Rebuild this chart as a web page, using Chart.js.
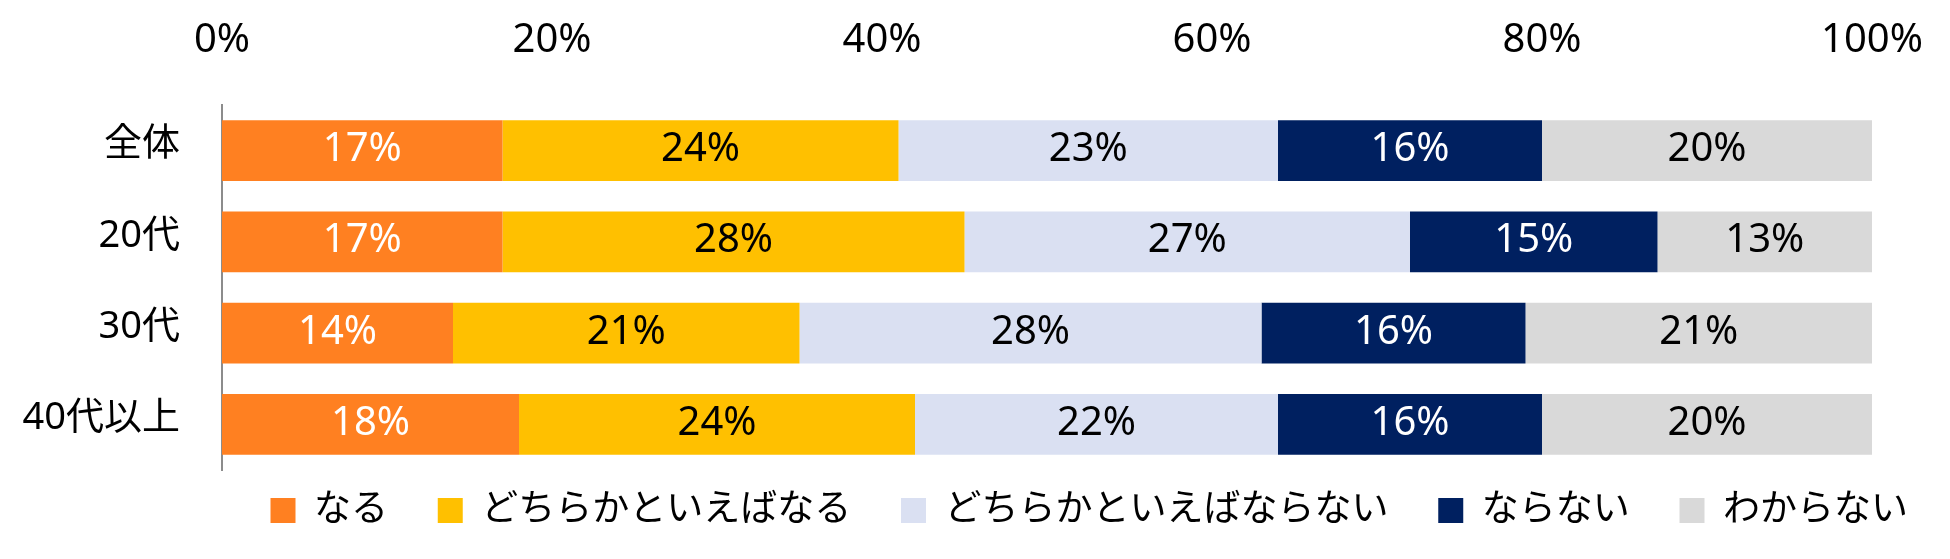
<!DOCTYPE html>
<html>
<head>
<meta charset="utf-8">
<script src="https://cdn.jsdelivr.net/npm/chart.js@4"></script>
<style>
  html, body { margin: 0; padding: 0; background: #fff; }
  #wrap { width: 1950px; height: 559px; }
</style>
</head>
<body>
<div id="wrap"><canvas id="myChart" width="1950" height="559"></canvas></div>
<script>
'use strict';

let groups = ['全体', '20代', '30代', '40代以上'];
let answers = ['なる', 'どちらかといえばなる', 'どちらかといえばならない', 'ならない', 'わからない'];

let naru = [17, 17, 14, 18];
let dochiraNaru = [24, 28, 21, 24];
let dochiraNaranai = [23, 27, 28, 22];
let naranai = [16, 15, 16, 16];
let wakaranai = [20, 13, 21, 20];

let tickValues = [0, 20, 40, 60, 80, 100];

let barColors = ['#FF8021', '#FFC000', '#DAE0F2', '#002060', '#D9D9D9'];
let labelColors = ['#ffffff', '#000000', '#000000', '#ffffff', '#000000'];

let seriesValues = [naru, dochiraNaru, dochiraNaranai, naranai, wakaranai];

const numFont = '"Noto Sans", "Noto Sans CJK JP", sans-serif';

let datasets = [];
for (let i = 0; i < answers.length; i++) {
    datasets.push({
        label: answers[i],
        data: seriesValues[i],
        backgroundColor: barColors[i],
        borderWidth: 0,
        categoryPercentage: 1,
        barPercentage: 0.667
    });
}

// percent text in the middle of each piece
const barLabels = {
    id: 'barLabels',
    afterDatasetsDraw(chart) {
        let ctx = chart.ctx;
        ctx.save();
        ctx.font = '40px ' + numFont;
        ctx.textAlign = 'center';
        ctx.textBaseline = 'middle';
        chart.data.datasets.forEach((ds, i) => {
            let meta = chart.getDatasetMeta(i);
            meta.data.forEach((bar, j) => {
                let p = bar.getCenterPoint();
                ctx.fillStyle = labelColors[i];
                ctx.fillText(ds.data[j] + '%', p.x, p.y - 1);
            });
        });
        ctx.restore();
    }
};

let ctx = document.getElementById('myChart').getContext('2d');

let chart = new Chart(ctx, {
    type: 'bar',
    data: {
        labels: groups,
        datasets: datasets
    },
    options: {
        indexAxis: 'y',
        responsive: false,
        animation: false,
        layout: { padding: { left: 0, right: 20, top: 0, bottom: 20 } },
        scales: {
            x: {
                position: 'top',
                stacked: true,
                min: 0,
                max: 100,
                afterBuildTicks: (s) => { s.ticks = tickValues.map(v => ({ value: v })); },
                afterFit: (s) => {
                    s.height = 105;
                    s.paddingLeft = 0;
                    s.paddingRight = 0;
                },
                grid: { display: false, drawTicks: false },
                border: { display: false },
                ticks: {
                    padding: 40,
                    color: '#000',
                    font: { family: numFont, size: 40 },
                    callback: (v) => v + '%'
                }
            },
            y: {
                stacked: true,
                afterFit: (s) => { s.width = 222; },
                grid: { display: false, drawTicks: false },
                border: { display: true, color: '#8c8c8c', width: 2 },
                ticks: {
                    padding: 42,
                    labelOffset: -6,
                    color: '#000',
                    font: { family: numFont, size: 38 }
                }
            },
            yRight: {
                type: 'linear',
                position: 'right',
                afterFit: (s) => { s.width = 58; },
                grid: { display: false, drawTicks: false },
                border: { display: false },
                ticks: { display: false }
            }
        },
        plugins: {
            legend: {
                position: 'bottom',
                align: 'end',
                labels: {
                    boxWidth: 25,
                    boxHeight: 25,
                    padding: 22,
                    color: '#000',
                    font: { family: numFont, size: 37 },
                    generateLabels: (c) => {
                        let items = Chart.defaults.plugins.legend.labels.generateLabels(c);
                        items.forEach((it, i) => {
                            if (i < items.length - 1) it.text = it.text + '\u2002\u2005';
                        });
                        return items;
                    }
                }
            },
            tooltip: { enabled: false }
        }
    },
    plugins: [barLabels]
});
</script>
</body>
</html>
